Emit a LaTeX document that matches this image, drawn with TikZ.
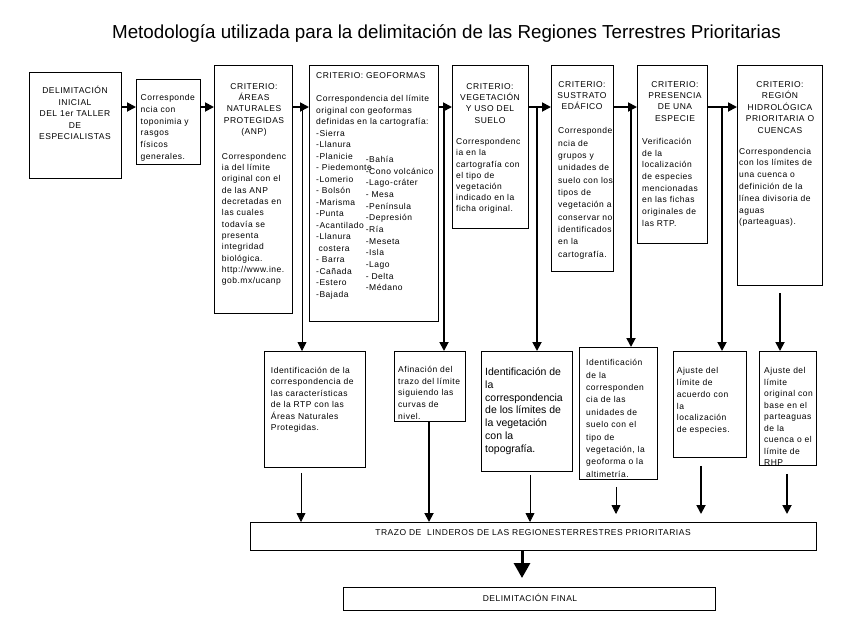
\documentclass[tikz,border=0pt]{standalone}
\usepackage{fontspec}
\setmainfont{Liberation Sans}
\newfontfamily\bodyf{Liberation Sans}[LetterSpace=6]
\newfontfamily\plainf{Liberation Sans}
\usetikzlibrary{arrows.meta}
\newcommand\sz[1]{\bodyf\fontsize{8.5}{#1}\selectfont}
\begin{document}
\begin{tikzpicture}[x=1pt,y=-1pt,
  box/.style={draw, line width=0.8pt, inner sep=0pt, anchor=north west},
  tx/.style={inner sep=0pt, anchor=north west, align=left},
  txc/.style={inner sep=0pt, anchor=north, align=center},
  thk/.style={line width=1.8pt},
  thn/.style={line width=0.8pt},
  tip/.style={-{Triangle[width=9pt,length=9pt]}},
  bigtip/.style={line width=3pt, -{Triangle[width=16pt,length=15pt]}}
]
\useasboundingbox (0,0) rectangle (858,643);

% title
\node[font=\fontsize{18.8}{22}\selectfont, anchor=base, inner sep=0pt] (title) at (446.5,38)
  {Metodología utilizada para la delimitación de las Regiones Terrestres Prioritarias};

% top row boxes
\node[box, minimum width=92pt, minimum height=106pt] (b1) at (29,72) {};
\node[box, minimum width=64pt, minimum height=85pt] (b2) at (136,79) {};
\node[box, minimum width=78pt, minimum height=248pt] (b3) at (214,65) {};
\node[box, minimum width=129pt, minimum height=256pt] (b4) at (309,65) {};
\node[box, minimum width=76pt, minimum height=163pt] (b5) at (452,65) {};
\node[box, minimum width=62pt, minimum height=206pt] (b6) at (551,65) {};
\node[box, minimum width=70pt, minimum height=178pt] (b7) at (637,65) {};
\node[box, minimum width=85pt, minimum height=220pt] (b8) at (737,65) {};

% top row texts
\node[txc, font=\sz{11.5}] at (75,85.7) {\strut DELIMITACIÓN\\INICIAL\\DEL 1er TALLER\\DE\\ESPECIALISTAS};
\node[tx, font=\sz{11.7}] at (140.5,92.5) {\strut Corresponde\\ncia con\\toponimia y\\rasgos\\físicos\\generales.};
\node[txc, font=\sz{11.3}] at (254,81.1) {\strut CRITERIO:\\ÁREAS\\NATURALES\\PROTEGIDAS\\(ANP)};
\node[tx, font=\sz{11.33}] at (221.7,151.1) {\strut Correspondenc\\ia del límite\\original con el\\de las ANP\\decretadas en\\las cuales\\todavía se\\presenta\\integridad\\biológica.\\http://www.ine.\\gob.mx/ucanp};
\node[tx, font=\sz{11.5}] at (316,70) {\strut CRITERIO: GEOFORMAS};
\node[tx, font=\sz{11.5}] at (316,93.3) {\strut Correspondencia del límite\\original con geoformas\\definidas en la cartografía:\\-Sierra\\-Llanura\\-Planicie\\- Piedemonte\\-Lomerio\\- Bolsón\\-Marisma\\-Punta\\-Acantilado\\-Llanura\\\hspace*{2.5pt}costera\\- Barra\\-Cañada\\-Estero\\-Bajada};
\node[tx, font=\sz{11.67}] at (365.7,154.1) {\strut -Bahía\\-Cono volcánico\\-Lago-cráter\\- Mesa\\-Península\\-Depresión\\-Ría\\-Meseta\\-Isla\\-Lago\\- Delta\\-Médano};
\node[txc, font=\sz{11.4}] at (490,81) {\strut CRITERIO:\\VEGETACIÓN\\Y USO DEL\\SUELO};
\node[tx, font=\sz{11.1}] at (456,136.9) {\strut Correspondenc\\ia en la\\cartografía con\\el tipo de\\vegetación\\indicado en la\\ficha original.};
\node[txc, font=\sz{11.3}] at (582,79.1) {\strut CRITERIO:\\SUSTRATO\\EDÁFICO};
\node[tx, font=\sz{12.33}] at (558,125.1) {\strut Corresponde\\ncia de\\grupos y\\unidades de\\suelo con los\\tipos de\\vegetación a\\conservar no\\identificados\\en la\\cartografía.};
\node[txc, font=\sz{11.4}] at (675,79) {\strut CRITERIO:\\PRESENCIA\\DE UNA\\ESPECIE};
\node[tx, font=\sz{11.67}] at (642,136) {\strut Verificación\\de la\\localización\\de especies\\mencionadas\\en las fichas\\originales de\\las RTP.};
\node[txc, font=\sz{11.5}] at (780,79) {\strut CRITERIO:\\REGIÓN\\HIDROLÓGICA\\PRIORITARIA O\\CUENCAS};
\node[tx, font=\sz{11.8}] at (739,145.7) {\strut Correspondencia\\con los límites de\\una cuenca o\\definición de la\\línea divisoria de\\aguas\\(parteaguas).};

% middle row boxes
\node[box, minimum width=101pt, minimum height=116pt] (ma) at (264,351) {};
\node[box, minimum width=71pt, minimum height=70pt] (mb) at (394,351) {};
\node[box, minimum width=91pt, minimum height=120pt] (mc) at (481,351) {};
\node[box, minimum width=78pt, minimum height=132pt] (md) at (579,347) {};
\node[box, minimum width=73pt, minimum height=106pt] (me) at (673,351) {};
\node[box, minimum width=57pt, minimum height=114pt] (mf) at (759,351) {};

\node[tx, font=\sz{11.5}] at (270.7,365) {\strut Identificación de la\\correspondencia de\\las características\\de la RTP con las\\Áreas Naturales\\Protegidas.};
\node[tx, font=\sz{11.67}] at (398,364.1) {\strut Afinación del\\trazo del límite\\siguiendo las\\curvas de\\nivel.};
\node[tx, font=\plainf\fontsize{10.5}{12.8}\selectfont] at (485,366.4) {\strut Identificación de\\la\\correspondencia\\de los límites de\\la vegetación\\con la\\topografía.};
\node[tx, font=\sz{12.37}] at (586,357) {\strut Identificación\\de la\\corresponden\\cia de las\\unidades de\\suelo con el\\tipo de\\vegetación, la\\geoforma o la\\altimetría.};
\node[tx, font=\sz{11.73}] at (676.7,365.5) {\strut Ajuste del\\límite de\\acuerdo con\\la\\localización\\de especies.};
\begin{scope}
  \clip (mf.north west) rectangle (mf.south east);
  \node[tx, font=\sz{11.5}] at (764,365.6) {\strut Ajuste del\\límite\\original con\\base en el\\parteaguas\\de la\\cuenca o el\\límite de\\RHP};
\end{scope}

% bottom boxes
\node[box, minimum width=566pt, minimum height=28pt] (tr) at (250,522) {};
\node[box, minimum width=372pt, minimum height=23pt] (fin) at (343,587) {};
\node[font=\sz{11.5}, inner sep=0pt] at (533,533) {TRAZO DE\ \ LINDEROS DE LAS REGIONESTERRESTRES PRIORITARIAS};
\node[font=\sz{11.5}, inner sep=0pt] at (530,598) {DELIMITACIÓN FINAL};

% horizontal chain
\coordinate (row) at (0,107);
\draw[thk,tip] (b1.east |- row) -- (b2.west |- row);
\draw[thk,tip] (b2.east |- row) -- (b3.west |- row);
\draw[thk,tip] (b3.east |- row) -- (b4.west |- row);
\draw[thk,tip] (b4.east |- row) -- (b5.west |- row);
\draw[thk,tip] (b5.east |- row) -- (b6.west |- row);
\draw[thk,tip] (b6.east |- row) -- (b7.west |- row);
\draw[thk,tip] (b7.east |- row) -- (b8.west |- row);

% branches down
\coordinate (j3) at (302,107);
\coordinate (j4) at (444,107);
\coordinate (j5) at (537,107);
\coordinate (j6) at (631,107);
\coordinate (j7) at (722,107);
\coordinate (j8) at (780,293);
\draw[thn,tip] (j3) -- (ma.north -| j3);
\draw[thk,tip] (j4) -- (mb.north -| j4);
\draw[thk,tip] (j5) -- (mc.north -| j5);
\draw[thk,tip] (j6) -- (md.north -| j6);
\draw[thk,tip] (j7) -- (me.north -| j7);
\draw[thk,tip] (j8) -- (mf.north -| j8);

% to the final trace
\coordinate (xa) at (301,0);
\coordinate (xb) at (429,0);
\coordinate (xc) at (530,0);
\coordinate (xd) at (616,0);
\coordinate (xe) at (701,0);
\coordinate (xf) at (787,0);
\coordinate (xg) at (522,0);
\draw[thn,tip,shorten <=5pt] (ma.south -| xa) -- (tr.north -| xa);
\draw[thk,tip] (mb.south -| xb) -- (tr.north -| xb);
\draw[thn,tip,shorten <=3pt] (mc.south -| xc) -- (tr.north -| xc);
\draw[thn,tip,shorten <=7pt,shorten >=8pt] (md.south -| xd) -- (tr.north -| xd);
\draw[thk,tip,shorten <=8pt,shorten >=8pt] (me.south -| xe) -- (tr.north -| xe);
\draw[thk,tip,shorten <=8pt,shorten >=8pt] (mf.south -| xf) -- (tr.north -| xf);
\draw[bigtip,shorten >=9pt] (tr.south -| xg) -- (fin.north -| xg);
\end{tikzpicture}
\end{document}
